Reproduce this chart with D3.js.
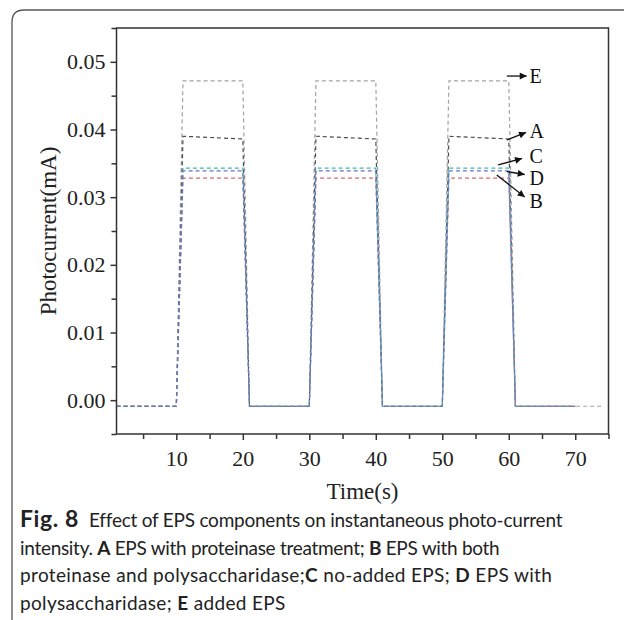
<!DOCTYPE html>
<html>
<head>
<meta charset="utf-8">
<script src="https://cdn.jsdelivr.net/npm/d3@7"></script>
<style>
  html, body { margin: 0; padding: 0; background: #fff; }
  svg { display: block; }
</style>
</head>
<body>
<svg id="fig" width="624" height="620"></svg>
<script>
// Sampling times (s) of the light on/off photocurrent record
const timesABCD = [1, 10, 11, 20, 21, 30, 31, 40, 41, 50, 51, 60, 61, 70];
const timesE = [1, 10, 11, 20, 21, 30, 31, 40, 41, 50, 51, 60, 61, 70, 74];

// Photocurrent (mA) at each sampling time
const seriesA = [-0.0009, -0.0009, 0.0390, 0.0386, -0.0009, -0.0009, 0.0390, 0.0386, -0.0009, -0.0009, 0.0390, 0.0386, -0.0009, -0.0009];
const seriesB = [-0.0009, -0.0009, 0.0328, 0.0328, -0.0009, -0.0009, 0.0328, 0.0328, -0.0009, -0.0009, 0.0328, 0.0328, -0.0009, -0.0009];
const seriesC = [-0.0009, -0.0009, 0.0343, 0.0343, -0.0009, -0.0009, 0.0343, 0.0343, -0.0009, -0.0009, 0.0343, 0.0343, -0.0009, -0.0009];
const seriesD = [-0.0009, -0.0009, 0.0339, 0.0339, -0.0009, -0.0009, 0.0339, 0.0339, -0.0009, -0.0009, 0.0339, 0.0339, -0.0009, -0.0009];
const seriesE = [-0.0009, -0.0009, 0.0472, 0.0472, -0.0009, -0.0009, 0.0472, 0.0472, -0.0009, -0.0009, 0.0472, 0.0472, -0.0009, -0.0009, -0.0009];

// Tick values and labels
const xTicks = [10, 20, 30, 40, 50, 60, 70];
const xMinorTicks = [5, 15, 25, 35, 45, 55, 65, 75];
const yTicks = [0.00, 0.01, 0.02, 0.03, 0.04, 0.05];
const yMinorTicks = [-0.005, 0.005, 0.015, 0.025, 0.035, 0.045, 0.055];

// Curve labels: arrow tail, arrow head (time, mA) and label text
const labelNames = ["E", "A", "C", "D", "B"];
const arrowTails = [[59.7, 0.0479], [59.7, 0.03845], [58.4, 0.03476], [59.7, 0.03379], [58.2, 0.03328]];
const arrowHeads = [[62.7, 0.0479], [62.6, 0.03956], [62.0, 0.03572], [62.4, 0.03335], [62.4, 0.03003]];
const labelAnchors = [[63.1, 0.0479], [63.1, 0.0398], [63.1, 0.0361], [63.1, 0.0328], [63.1, 0.0294]];

const captionLines = [
  [{ t: "Fig. 8", b: true, big: true }, { t: "Effect of EPS components on instantaneous photo-current", b: false, at: 89 }],
  [{ t: "intensity. ", b: false }, { t: "A", b: true }, { t: " EPS with proteinase treatment; ", b: false }, { t: "B", b: true }, { t: " EPS with both", b: false }],
  [{ t: "proteinase and polysaccharidase;", b: false }, { t: "C", b: true }, { t: " no-added EPS; ", b: false }, { t: "D", b: true }, { t: " EPS with", b: false }],
  [{ t: "polysaccharidase; ", b: false }, { t: "E", b: true }, { t: " added EPS", b: false }]
];
// Preferred right-hand end of each caption line (px)
const captionLineEnds = [562, 491, 567, 333];

const svg = d3.select("#fig");
const W = 624, H = 620;
const plot = { left: 116.5, right: 608.5, top: 28, bottom: 434 };

// Rounded frame around the figure panel
svg.append("path")
  .attr("d", `M12,${H + 5} L12,22 Q12,10 24,10 L${W + 5},10`)
  .attr("fill", "none")
  .attr("stroke", "#555")
  .attr("stroke-width", 1.3);

const x = d3.scaleLinear().domain([1, 75]).range([plot.left, plot.right]);
const y = d3.scaleLinear().domain([-0.005, 0.055]).range([plot.bottom, plot.top]);

const serif = "'Liberation Serif', 'Times New Roman', serif";
const axisColor = "#333";

// Curves
const line = d3.line().x(d => x(d[0])).y(d => y(d[1]));
const curves = [
  { t: timesE, v: seriesE, color: "#a3a3a3" },
  { t: timesABCD, v: seriesA, color: "#4d4d4d" },
  { t: timesABCD, v: seriesB, color: "#e0686b" },
  { t: timesABCD, v: seriesC, color: "#3fb7b4" },
  { t: timesABCD, v: seriesD, color: "#6a70c8" }
];
const gCurves = svg.append("g");
curves.forEach(c => {
  gCurves.append("path")
    .datum(c.t.map((tt, i) => [tt, c.v[i]]))
    .attr("d", line)
    .attr("fill", "none")
    .attr("stroke", c.color)
    .attr("stroke-width", 1.2)
    .attr("stroke-dasharray", "4,3");
});

// Plot frame
svg.append("rect")
  .attr("x", plot.left).attr("y", plot.top)
  .attr("width", plot.right - plot.left).attr("height", plot.bottom - plot.top)
  .attr("fill", "none").attr("stroke", axisColor).attr("stroke-width", 1.5);

// Bottom axis
const xAxis = svg.append("g").attr("transform", `translate(0,${plot.bottom})`)
  .call(d3.axisBottom(x).tickValues(xTicks).tickSize(6).tickPadding(10).tickFormat(d3.format("d")));
xAxis.append("g").call(d3.axisBottom(x).tickValues(xMinorTicks).tickSize(5).tickFormat(""));
xAxis.selectAll(".domain").remove();
xAxis.selectAll("line").attr("stroke", axisColor).attr("stroke-width", 1.5);
xAxis.selectAll("text").attr("font-family", serif).attr("font-size", 22).attr("fill", "#222");

// Left axis
const yAxis = svg.append("g").attr("transform", `translate(${plot.left},0)`)
  .call(d3.axisLeft(y).tickValues(yTicks).tickSize(6).tickPadding(5).tickFormat(d3.format(".2f")));
yAxis.append("g").call(d3.axisLeft(y).tickValues(yMinorTicks).tickSize(5).tickFormat(""));
yAxis.selectAll(".domain").remove();
yAxis.selectAll("line").attr("stroke", axisColor).attr("stroke-width", 1.5);
yAxis.selectAll("text").attr("font-family", serif).attr("font-size", 22).attr("fill", "#222");

// Axis titles
svg.append("text")
  .attr("x", (plot.left + plot.right) / 2).attr("y", 499)
  .attr("text-anchor", "middle")
  .attr("font-family", serif).attr("font-size", 23).attr("fill", "#222")
  .text("Time(s)");
svg.append("text")
  .attr("transform", `translate(56,${(plot.top + plot.bottom) / 2}) rotate(-90)`)
  .attr("text-anchor", "middle")
  .attr("font-family", serif).attr("font-size", 23).attr("fill", "#222")
  .text("Photocurrent(mA)");

// Arrowhead marker
svg.append("defs").append("marker")
  .attr("id", "head")
  .attr("viewBox", "0 0 10 10")
  .attr("refX", 10).attr("refY", 5)
  .attr("markerWidth", 9).attr("markerHeight", 7)
  .attr("markerUnits", "userSpaceOnUse")
  .attr("orient", "auto")
  .append("path").attr("d", "M0,0 L10,5 L0,10 Z").attr("fill", "#111");

// Curve labels with arrows
const gLab = svg.append("g");
labelNames.forEach((name, i) => {
  gLab.append("line")
    .attr("x1", x(arrowTails[i][0])).attr("y1", y(arrowTails[i][1]))
    .attr("x2", x(arrowHeads[i][0])).attr("y2", y(arrowHeads[i][1]))
    .attr("stroke", "#111").attr("stroke-width", 1.3)
    .attr("marker-end", "url(#head)");
  gLab.append("text")
    .attr("x", x(labelAnchors[i][0])).attr("y", y(labelAnchors[i][1]))
    .attr("dy", "0.35em")
    .attr("font-family", serif).attr("font-size", 20).attr("fill", "#111")
    .text(name);
});

// Caption; a small letter-spacing nudge brings each line near its preferred end
const sans = "Lato, 'Open Sans', sans-serif";
const cap = svg.append("g");
captionLines.forEach((segs, i) => {
  const t = cap.append("text")
    .attr("x", 20).attr("y", 527 + i * 27.5)
    .attr("font-family", sans).attr("font-size", 19).attr("fill", "#222");
  const spans = segs.map(s => {
    const sp = t.append("tspan").attr("font-weight", s.b ? 700 : 400).text(s.t);
    if (s.big) sp.attr("font-size", 23).attr("letter-spacing", 0.6);
    if (s.at) sp.attr("x", s.at);
    return sp;
  });
  const nChars = segs.filter(s => !s.big).reduce((n, s) => n + s.t.length, 0);
  const bb = t.node().getBBox();
  const extra = captionLineEnds[i] - (bb.x + bb.width);
  const ls = Math.max(-0.3, Math.min(0.35, extra / Math.max(1, nChars - 1)));
  spans.forEach((sp, j) => {
    if (!segs[j].big) sp.attr("letter-spacing", ls.toFixed(3));
  });
});
</script>
</body>
</html>
